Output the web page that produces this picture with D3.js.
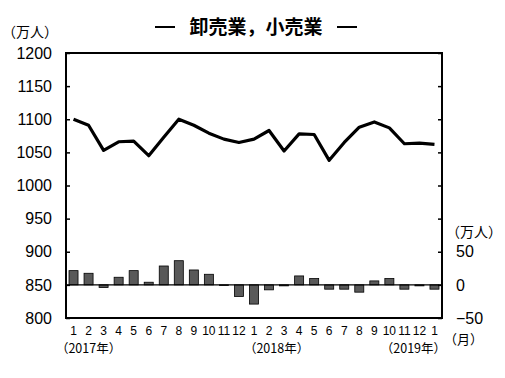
<!doctype html>
<html lang="ja">
<head>
<meta charset="utf-8">
<script src="https://cdnjs.cloudflare.com/ajax/libs/d3/7.8.5/d3.min.js"></script>
<style>
  body { margin: 0; background: #fff; }
  text { font-family: "Liberation Sans", Arial, "Noto Sans CJK JP", sans-serif; fill: #000; }
  .jp { font-family: "Noto Sans CJK JP", sans-serif; }
</style>
</head>
<body>
<div id="chart"></div>
<script>
// months Jan 2017 .. Jan 2019
var months = ["1","2","3","4","5","6","7","8","9","10","11","12",
              "1","2","3","4","5","6","7","8","9","10","11","12","1"];
// employed persons (万人), left axis
var level = [1100, 1091, 1053, 1066, 1067, 1045, 1073, 1100, 1091, 1079, 1070, 1065,
             1070, 1083, 1052, 1078, 1077, 1038, 1065, 1088, 1096, 1087, 1063, 1064, 1062];
// year-on-year change (万人), right axis
var change = [21.5, 17.5, -4, 11.5, 21.5, 4, 28.5, 36.5, 22.5, 16, -1, -17.5,
              -29, -7.5, -1.5, 13.5, 9.5, -6.5, -6.5, -11, 6, 9.5, -6.5, -1.5, -6.5];
var leftTicks = [800, 850, 900, 950, 1000, 1050, 1100, 1150, 1200];
var rightTicks = [-50, 0, 50, 100, 150, 200, 250, 300, 350];
var rightLabels = [-50, 0, 50];
var years = [{label: "（2017年）", at: 1}, {label: "（2018年）", at: 13.5}, {label: "（2019年）", at: 22.6}];

var W = 505, H = 378;
var mLeft = 66, mRight = 442, mTop = 53, mBottom = 318;

var svg = d3.select('#chart').append('svg')
    .attr('width', W).attr('height', H);

var x = d3.scaleBand().domain(d3.range(months.length))
    .range([mLeft, mRight]).paddingInner(0.4).paddingOuter(0.2);
var xc = d3.scaleLinear().domain([0, months.length - 1])
    .range([x(0) + x.bandwidth() / 2, x(months.length - 1) + x.bandwidth() / 2]);
var yL = d3.scaleLinear().domain([800, 1200]).range([mBottom, mTop]);
var yR = d3.scaleLinear().domain([-50, 350]).range([mBottom, mTop]);

// bars
svg.selectAll('rect.bar').data(change).enter().append('rect')
    .attr('class', 'bar')
    .attr('x', function(d, i) { return x(i); })
    .attr('width', x.bandwidth())
    .attr('y', function(d) { return yR(Math.max(0, d)); })
    .attr('height', function(d) { return Math.abs(yR(d) - yR(0)); })
    .attr('fill', '#595959')
    .attr('stroke', '#000')
    .attr('stroke-width', 0.8);

// zero line
svg.append('line')
    .attr('x1', mLeft).attr('x2', mRight)
    .attr('y1', yR(0)).attr('y2', yR(0))
    .attr('stroke', '#000').attr('stroke-width', 1.2);

// level line
var line = d3.line()
    .x(function(d, i) { return xc(i); })
    .y(function(d) { return yL(d); });
svg.append('path').datum(level)
    .attr('d', line)
    .attr('fill', 'none')
    .attr('stroke', '#000')
    .attr('stroke-width', 3.2)
    .attr('stroke-linejoin', 'round');

// frame
svg.append('rect')
    .attr('x', mLeft).attr('y', mTop)
    .attr('width', mRight - mLeft).attr('height', mBottom - mTop)
    .attr('fill', 'none').attr('stroke', '#000').attr('stroke-width', 2);

// left axis
var axL = svg.append('g').attr('transform', 'translate(' + mLeft + ',0)')
    .call(d3.axisLeft(yL).tickValues(leftTicks).tickSize(-4).tickPadding(14).tickFormat(d3.format('d')));
axL.select('.domain').remove();
axL.selectAll('line').attr('stroke', '#000').attr('stroke-width', 1.5);
axL.selectAll('text').attr('font-size', 16).attr('font-family', '"Liberation Sans", Arial, sans-serif');

// right axis
var axR = svg.append('g').attr('transform', 'translate(' + mRight + ',0)')
    .call(d3.axisRight(yR).tickValues(rightTicks).tickSize(-4).tickPadding(14)
        .tickFormat(function(d) { return rightLabels.indexOf(d) >= 0 ? (d < 0 ? '−' + Math.abs(d) : d) : ''; }));
axR.select('.domain').remove();
axR.selectAll('line').attr('stroke', '#000').attr('stroke-width', 1.5);
axR.selectAll('text').attr('font-size', 16).attr('font-family', '"Liberation Sans", Arial, sans-serif');

// month labels
svg.selectAll('text.month').data(months).enter().append('text')
    .attr('class', 'month')
    .attr('x', function(d, i) { return xc(i); })
    .attr('y', 335)
    .attr('text-anchor', 'middle')
    .attr('font-size', 12)
    .text(function(d) { return d; });

// year labels
svg.selectAll('text.year').data(years).enter().append('text')
    .attr('class', 'year jp')
    .attr('x', function(d) { return xc(d.at); })
    .attr('y', 353)
    .attr('text-anchor', 'middle')
    .attr('font-size', 12.5)
    .text(function(d) { return d.label; });

svg.append('text').attr('class', 'jp')
    .attr('x', 444).attr('y', 344).attr('font-size', 13).text('（月）');

// units
svg.append('text').attr('class', 'jp')
    .attr('x', 2).attr('y', 37).attr('font-size', 14).text('（万人）');
svg.append('text').attr('class', 'jp')
    .attr('x', 446).attr('y', 237).attr('font-size', 14).text('（万人）');

// title
svg.append('text').attr('class', 'jp')
    .attr('x', 256).attr('y', 34)
    .attr('text-anchor', 'middle')
    .attr('font-size', 19).attr('font-weight', 'bold')
    .text('卸売業，小売業');
svg.selectAll('line.dash').data([155, 337]).enter().append('line')
    .attr('class', 'dash')
    .attr('x1', function(d) { return d; }).attr('x2', function(d) { return d + 20; })
    .attr('y1', 27).attr('y2', 27)
    .attr('stroke', '#000').attr('stroke-width', 2);
</script>
</body>
</html>
